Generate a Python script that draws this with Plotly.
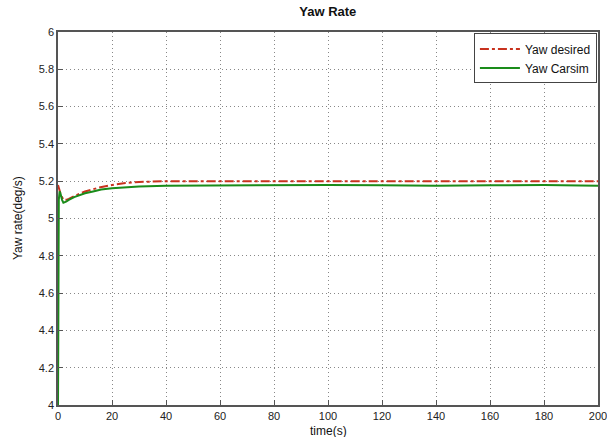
import plotly.graph_objects as go

t_carsim = [0, 0.05, 0.3, 0.6, 1.0, 1.5, 2.0, 3, 4, 6, 8, 10, 13, 16, 20, 25, 30, 40, 50, 60, 80, 100, 120, 140, 160, 180, 200]
yaw_carsim = [4.0, 4.7, 5.10, 5.145, 5.13, 5.10, 5.085, 5.09, 5.10, 5.115, 5.125, 5.135, 5.145, 5.155, 5.162, 5.168, 5.172, 5.175, 5.176, 5.177, 5.178, 5.18, 5.178, 5.175, 5.178, 5.18, 5.176]

t_desired = [0, 1, 2, 3, 4, 6, 10, 15, 20, 25, 30, 40, 60, 100, 150, 200]
yaw_desired = [5.18, 5.13, 5.10, 5.10, 5.105, 5.12, 5.145, 5.165, 5.18, 5.19, 5.196, 5.2, 5.2, 5.2, 5.2, 5.2]

x_ticks = [0, 20, 40, 60, 80, 100, 120, 140, 160, 180, 200]
y_ticks = [4, 4.2, 4.4, 4.6, 4.8, 5, 5.2, 5.4, 5.6, 5.8, 6]

fig = go.Figure()
fig.add_trace(go.Scatter(x=t_desired, y=yaw_desired, mode="lines", name="Yaw desired",
                         line=dict(color="#c8321e", width=2, dash="dashdot")))
fig.add_trace(go.Scatter(x=t_carsim, y=yaw_carsim, mode="lines", name="Yaw Carsim",
                         line=dict(color="#1a8c1a", width=2)))

axis_common = dict(showline=True, linecolor="#555555", linewidth=1.5, mirror=True,
                   ticks="inside", ticklen=5, tickcolor="#555555",
                   showgrid=True, gridcolor="#888888", griddash="1px,3px", gridwidth=1,
                   zeroline=False, automargin=False, ticklabeloverflow="allow",
                   tickfont=dict(size=11, color="#222222"))

fig.update_layout(
    width=607, height=437,
    margin=dict(l=58, r=9, t=32, b=32),
    paper_bgcolor="white", plot_bgcolor="white",
    font=dict(family="Liberation Sans, Arial, sans-serif", color="#111111"),
    title=dict(text="<b>Yaw Rate</b>", x=0.54, xanchor="center", y=0.985, yanchor="top",
               font=dict(size=13, color="#111111")),
    xaxis=dict(range=[0, 200], tickvals=x_ticks, **axis_common),
    yaxis=dict(range=[4, 6], tickvals=y_ticks, **axis_common),
    legend=dict(x=0.998, y=0.996, xanchor="right", yanchor="top", bgcolor="white",
                bordercolor="#444444", borderwidth=1, font=dict(size=12),
                tracegroupgap=0, itemwidth=40),
    showlegend=True,
    annotations=[
        dict(text="time(s)", xref="paper", yref="paper", x=0.5, y=-0.046, xanchor="center",
             yanchor="top", showarrow=False, font=dict(size=12)),
        dict(text="Yaw rate(deg/s)", xref="paper", yref="paper", x=-0.075, y=0.5, xanchor="center",
             yanchor="middle", textangle=-90, showarrow=False, font=dict(size=12)),
    ],
)

fig.write_html("out.html", config={"displayModeBar": False},
               post_script="document.body.style.margin='0';")
